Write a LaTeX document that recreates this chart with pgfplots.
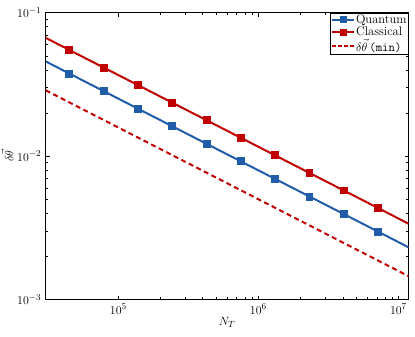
\documentclass[border=0pt]{standalone}
\usepackage{pgfplots}
\pgfplotsset{compat=1.18}
\definecolor{qblue}{RGB}{33,92,168}
\definecolor{cred}{RGB}{192,0,0}
\begin{document}
\begin{tikzpicture}
\useasboundingbox (-45.7bp,-37bp) rectangle (369.5bp,299.7bp);
\begin{axis}[
at={(0,0)}, anchor=south west,
scale only axis,
width=363bp, height=287bp,
xmode=log, ymode=log,
xmin=3.03e4, xmax=1.18e7,
ymin=1e-3, ymax=1e-1,
xtick={1e5,1e6,1e7},
ytick={1e-3,1e-2,1e-1},
tick align=inside,
major tick length=4bp,
minor tick length=2.2bp,
axis line style={line width=0.7pt},
every tick/.style={black, line width=0.4pt},
tick label style={font=\fontsize{12.7}{14}\selectfont},
label style={font=\fontsize{12.7}{14}\selectfont},
xticklabel style={yshift=-1pt},
yticklabel style={xshift=-1pt},
xlabel={$N_T$},
ylabel={$\delta\vec{\theta}$},
xlabel style={yshift=4pt},
ylabel style={yshift=-3pt},
legend cell align=left,
legend style={at={(1,1)}, anchor=north east,
  font=\fontsize{12.5}{13}\selectfont,
  inner sep=1pt, nodes={inner sep=0.8pt}, row sep=0.5pt,
  draw=black, line width=0.5pt},
legend image code/.code={\draw[mark repeat=2,mark phase=2]
  plot coordinates {(0cm,0cm) (0.39cm,0cm) (0.78cm,0cm)};},
]
% quantum
\addplot[qblue, line width=2pt, mark=square*, mark size=3pt,
  mark indices={2,3,4,5,6,7,8,9,10,11}, forget plot] coordinates {
(30300,0.04576) (44668,0.03766) (78524,0.02841) (138038,0.02142)
(242661,0.01616) (426580,0.01219) (749894,0.009192) (1318257,0.006932)
(2317395,0.005229) (4073803,0.003945) (7161434,0.002975) (11800000,0.002314)
};
% classical
\addplot[cred, line width=2pt, mark=square*, mark size=3pt,
  mark indices={2,3,4,5,6,7,8,9,10,11}, forget plot] coordinates {
(30300,0.06681) (44668,0.05498) (78524,0.04147) (138038,0.03128)
(242661,0.02359) (426580,0.01780) (749894,0.01342) (1318257,0.01012)
(2317395,0.007635) (4073803,0.005759) (7161434,0.004344) (11800000,0.003379)
};
% bound
\addplot[cred, line width=2pt, dash pattern=on 5pt off 3.5pt, forget plot]
  coordinates {(30300,0.02878) (11800000,0.001456)};
\addlegendimage{qblue, line width=2pt, mark=square*, mark size=2.6pt}
\addlegendentry{Quantum}
\addlegendimage{cred, line width=2pt, mark=square*, mark size=2.6pt}
\addlegendentry{Classical}
\addlegendimage{cred, line width=2pt, dash pattern=on 3.5pt off 2.5pt}
\addlegendentry{$\delta\vec{\theta}\,$\texttt{(min)}}
\end{axis}
\end{tikzpicture}
\end{document}
